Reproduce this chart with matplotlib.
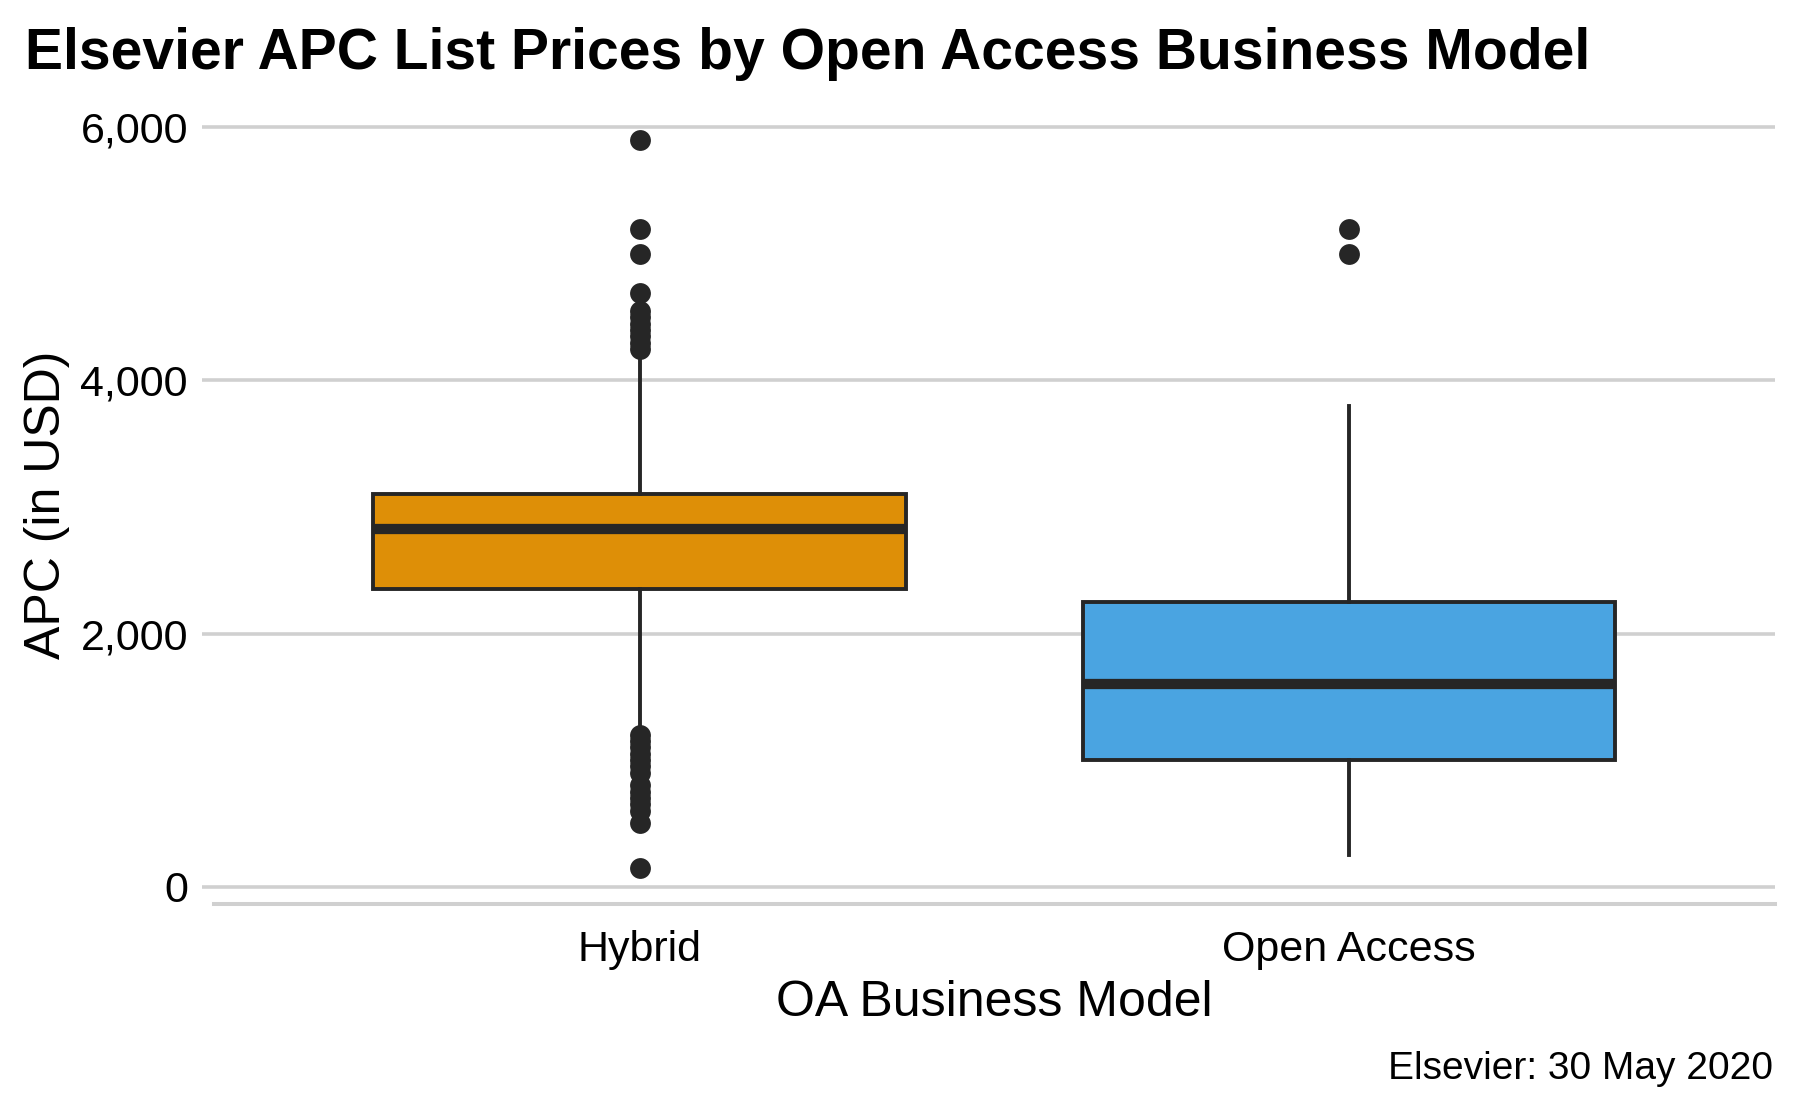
import matplotlib
matplotlib.use("Agg")
import matplotlib.pyplot as plt
from matplotlib.ticker import FuncFormatter

plt.rcParams['font.family'] = ['Liberation Sans', 'DejaVu Sans']

# box statistics (USD)
models = ["Hybrid", "Open Access"]
q1 = [2350, 1000]
median = [2830, 1600]
q3 = [3100, 2250]
whisker_low = [1250, 250]
whisker_high = [4200, 3800]
outliers = [
    [5900, 5200, 5000, 4690, 4550, 4500, 4450, 4400, 4350, 4300, 4250,
     1200, 1150, 1100, 1050, 1000, 950, 900, 800, 750, 700, 650, 600, 500, 150],
    [5200, 5000],
]
fills = ["#DE8F07", "#4AA4E1"]

yticks = [0, 2000, 4000, 6000]

ink = "#262626"
grid_col = "#D0D0D0"

fig = plt.figure(figsize=(18, 11.12), dpi=100)
W, H = 1800, 1112
left, right, top, bottom = 213.8, 1774.7, 103.7, 904
ax = fig.add_axes([left / W, 1 - bottom / H, (right - left) / W, (bottom - top) / H])

stats = []
for i, m in enumerate(models):
    stats.append(dict(label=m, q1=q1[i], med=median[i], q3=q3[i],
                      whislo=whisker_low[i], whishi=whisker_high[i], fliers=outliers[i]))

bp = ax.bxp(stats, positions=[1, 2], widths=0.75, patch_artist=True, showcaps=False,
            boxprops=dict(edgecolor=ink, linewidth=2.8),
            medianprops=dict(color=ink, linewidth=7.4, solid_capstyle='butt'),
            whiskerprops=dict(color=ink, linewidth=2.8),
            flierprops=dict(marker='o', markerfacecolor=ink, markeredgecolor=ink,
                            markersize=15, markeredgewidth=0),
            zorder=3)
for patch, c in zip(bp['boxes'], fills):
    patch.set_facecolor(c)

# ggplot-style 5% expansion
allvals = [v for o in outliers for v in o] + whisker_low + whisker_high
lo, hi = min(allvals), max(allvals)
pad = (hi - lo) * 0.05
ax.set_ylim(lo - pad, hi + pad)
ax.set_xlim(0.4, 2.6)

ax.set_yticks(yticks)
ax.yaxis.set_major_formatter(FuncFormatter(lambda v, p: f"{int(v):,}"))
ax.yaxis.grid(True, color=grid_col, linewidth=2.6, zorder=0)
ax.set_axisbelow(True)
ax.tick_params(axis='y', length=8.6, width=2.6, color=grid_col, pad=10, labelsize=31, labelcolor='black')
ax.tick_params(axis='x', length=0, pad=19, labelsize=31, labelcolor='black')
ax.set_xticks([1, 2], models)

for s in ['left', 'right', 'top']:
    ax.spines[s].set_visible(False)
ax.spines['bottom'].set_color(grid_col)
ax.spines['bottom'].set_linewidth(2.9)

fig.text(25 / W, 1 - 69 / H, "Elsevier APC List Prices by Open Access Business Model",
         fontsize=41, fontweight='bold', ha='left', va='baseline')
fig.text(994 / W, 1 - 1016 / H, "OA Business Model", fontsize=36, ha='center', va='baseline')
fig.text(47 / W, 1 - 505 / H, "APC (in USD)", fontsize=36, rotation=90, ha='center', va='center')
fig.text(1773 / W, 1 - 1079 / H, "Elsevier: 30 May 2020", fontsize=28, ha='right', va='baseline')

fig.savefig("out.png", dpi=100, facecolor='white')
